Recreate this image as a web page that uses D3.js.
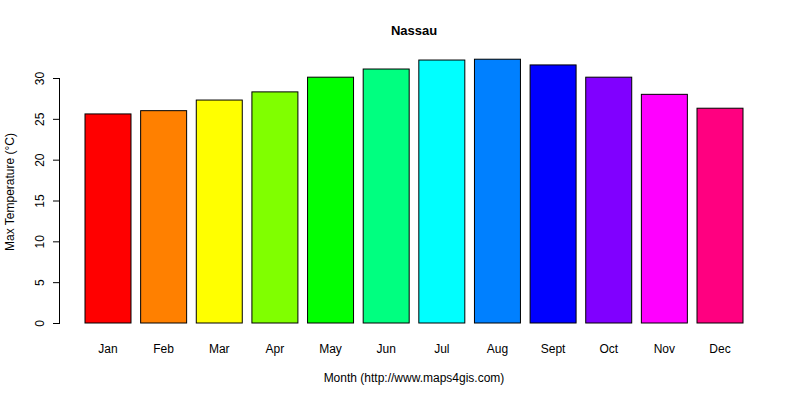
<!DOCTYPE html>
<html><head><script src="https://cdn.jsdelivr.net/npm/d3@7"></script>
<style>body{margin:0;background:#fff}text{font-family:Arial,"Liberation Sans",sans-serif}</style></head>
<body><svg id="c" width="800" height="400"></svg>
<script>
const months=["Jan","Feb","Mar","Apr","May","Jun","Jul","Aug","Sept","Oct","Nov","Dec"];
const values=[25.6,26.0,27.3,28.3,30.1,31.1,32.2,32.3,31.6,30.1,28.0,26.3];
const colors=["#FF0000","#FF8000","#FFFF00","#80FF00","#00FF00","#00FF80","#00FFFF","#0080FF","#0000FF","#8000FF","#FF00FF","#FF0080"];
const yTicks=[0,5,10,15,20,25,30];
const svg=d3.select("#c");
const y=d3.scaleLinear().domain([0,30]).range([323,78]);
const x=d3.scaleBand().domain(months).range([85,743]).paddingInner(0.1733).paddingOuter(0);
svg.selectAll("rect").data(values).join("rect")
 .attr("x",(d,i)=>x(months[i])).attr("width",x.bandwidth())
 .attr("y",d=>y(d)).attr("height",d=>y(0)-y(d))
 .attr("fill",(d,i)=>colors[i]).attr("stroke","#000").attr("stroke-width",1);
const ax=svg.append("g").attr("transform","translate(60,0)")
 .call(d3.axisLeft(y).tickValues(yTicks).tickSize(7));
ax.select(".domain").attr("d","M-0.5,"+y(0)+"V"+y(30));
ax.selectAll(".tick text").attr("x",null).attr("dy",null).attr("y",null)
 .attr("font-size",12).attr("text-anchor","middle")
 .attr("transform","translate(-20,0) rotate(-90)").attr("dy","0.35em");
svg.selectAll("text.xl").data(months).join("text").attr("class","xl")
 .attr("x",d=>x(d)+x.bandwidth()/2).attr("y",353).attr("text-anchor","middle").attr("font-size",12).text(d=>d);
svg.append("text").attr("x",414).attr("y",35).attr("text-anchor","middle").attr("font-weight","bold").attr("font-size",13).text("Nassau");
svg.append("text").attr("x",414).attr("y",382).attr("text-anchor","middle").attr("font-size",12).text("Month (http://www.maps4gis.com)");
svg.append("text").attr("transform","translate(14,192) rotate(-90)").attr("text-anchor","middle").attr("font-size",12).text("Max Temperature (°C)");
</script></body></html>
